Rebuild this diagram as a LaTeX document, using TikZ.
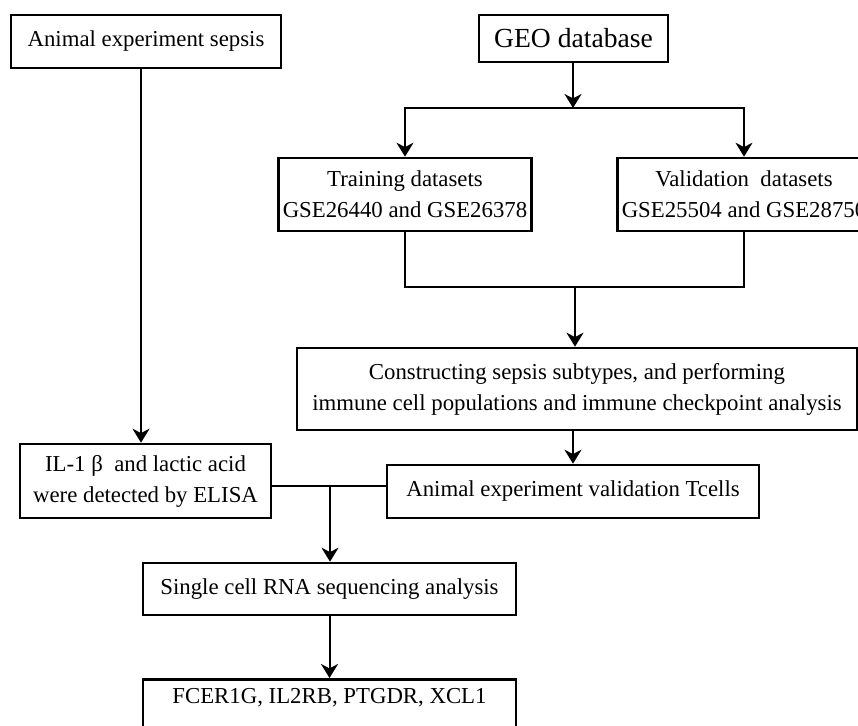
\documentclass[tikz,border=0pt]{standalone}
\usepackage{fontspec}
\setmainfont{Liberation Serif}
\usetikzlibrary{arrows.meta}
\tikzstyle{every node}=[font=\fontsize{11.4}{15.5}\selectfont]
\tikzstyle{box}=[draw,line width=1.3pt,align=center,inner sep=2pt]
\tikzstyle{arr}=[line width=1pt,-{Stealth[length=7pt,width=8.5pt,inset=2.2pt]}]
\tikzstyle{ln}=[line width=1pt]
\begin{document}
\begin{tikzpicture}[x=0.5pt,y=-0.5pt]
\useasboundingbox (0,0) rectangle (858,725);
% boxes
\node[box,minimum width=135pt,minimum height=26.5pt] (sepsis) at (146,41.5) {Animal experiment sepsis};
\node[box,minimum width=94.5pt,minimum height=23.5pt,font=\fontsize{13.8}{16}\selectfont] (geo) at (573.5,38.5) {GEO database};
\node[box,minimum width=125pt,minimum height=36.5pt] (train) at (405,194.5) {Training datasets\\GSE26440 and GSE26378};
\node[box,minimum width=125pt,minimum height=36.5pt] (valid) at (744,194.5) {Validation\ \ datasets\\GSE25504 and GSE28750};
\node[box,minimum width=280pt,minimum height=41pt] (cons) at (577,389) {Constructing sepsis subtypes, and performing\\immune cell populations and immune checkpoint analysis};
\node[box,minimum width=125.5pt,minimum height=37pt] (il) at (145.5,481) {IL-1 β\ \ and lactic acid\\were detected by ELISA};
\node[box,minimum width=186pt,minimum height=26.5pt] (tc) at (573,491.5) {Animal experiment validation Tcells};
\node[box,minimum width=186.5pt,minimum height=26pt] (sc) at (329.5,589) {Single cell RNA sequencing analysis};
\node[box,minimum width=186.5pt,anchor=north,inner ysep=4.5pt,text depth=30pt] (genes) at (329.5,678) {FCER1G, IL2RB, PTGDR, XCL1};
% branch points
\coordinate (left) at (141,0);
\coordinate (split) at (573,108);
\coordinate (merge) at (575,287);
\coordinate (join) at (330,486);
% connectors
\draw[arr] (sepsis.south -| left) -- (il.north -| left);
\draw[arr] (geo.south -| split) -- (split);
\draw[arr] (split) -| (train.north);
\draw[arr] (split) -| (valid.north);
\draw[ln] (train.south) |- (merge) -| (valid.south);
\draw[arr] (merge) -- (merge |- cons.north);
\draw[arr] (cons.south -| tc.north) -- (tc.north);
\draw[ln] (il.east |- join) -- (tc.west |- join);
\draw[arr] (join) -- (join |- sc.north);
\draw[arr] (sc) -- (genes);
\end{tikzpicture}
\end{document}
